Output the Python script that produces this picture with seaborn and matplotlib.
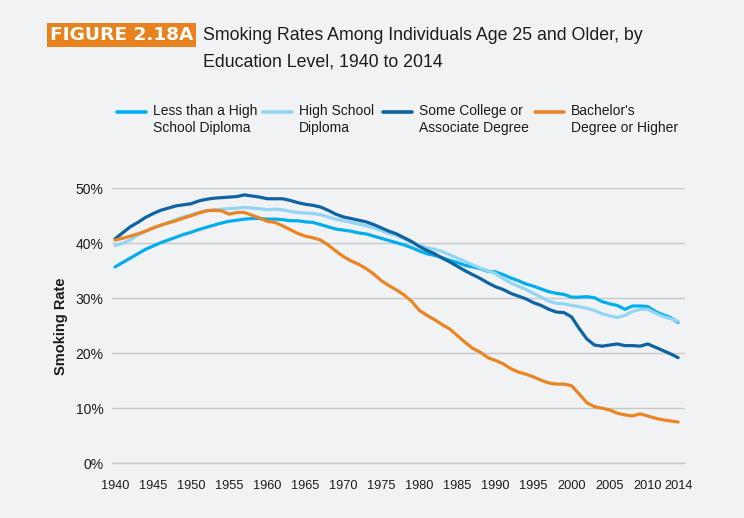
import pandas as pd
import matplotlib.pyplot as plt
import seaborn as sns
from matplotlib.lines import Line2D
from matplotlib.ticker import FuncFormatter, MultipleLocator

# smoking rate (%) by year
years = list(range(1940, 2015))

less_than_hs = [
    35.7, 36.5, 37.3, 38.1, 38.9, 39.5, 40.1, 40.6, 41.1, 41.6,
    42.0, 42.5, 42.9, 43.3, 43.7, 44.0, 44.2, 44.4, 44.5, 44.5,
    44.4, 44.4, 44.3, 44.1, 44.1, 43.9, 43.8, 43.4, 43.0, 42.6,
    42.4, 42.2, 41.9, 41.7, 41.3, 40.9, 40.5, 40.1, 39.7, 39.2,
    38.6, 38.1, 37.8, 37.4, 36.9, 36.5, 36.0, 35.7, 35.4, 34.9,
    34.8, 34.3, 33.7, 33.2, 32.6, 32.2, 31.7, 31.2, 30.9, 30.7,
    30.2, 30.2, 30.3, 30.1, 29.4, 29.0, 28.7, 28.0, 28.6, 28.6,
    28.5, 27.6, 27.0, 26.5, 25.6,
]
high_school = [
    39.6, 40.0, 40.6, 41.5, 42.2, 42.7, 43.2, 43.8, 44.3, 44.8,
    45.2, 45.6, 45.9, 46.1, 46.2, 46.3, 46.4, 46.5, 46.4, 46.3,
    46.1, 46.2, 46.1, 45.8, 45.6, 45.5, 45.4, 45.2, 44.8, 44.4,
    44.1, 43.8, 43.5, 43.2, 42.8, 42.3, 41.8, 41.4, 40.8, 40.2,
    39.7, 39.2, 38.9, 38.5, 37.9, 37.3, 36.7, 36.1, 35.5, 35.0,
    34.5, 33.6, 32.8, 32.2, 31.6, 30.9, 30.2, 29.5, 29.1, 29.0,
    28.7, 28.5, 28.2, 27.8, 27.2, 26.8, 26.5, 26.9, 27.6, 28.0,
    28.0, 27.3, 26.7, 26.3, 25.8,
]
some_college = [
    40.8, 41.9, 43.0, 43.8, 44.7, 45.4, 46.0, 46.4, 46.8, 47.0,
    47.2, 47.7, 48.0, 48.2, 48.3, 48.4, 48.5, 48.8, 48.6, 48.4,
    48.1, 48.1, 48.1, 47.8, 47.4, 47.1, 46.9, 46.6, 46.0, 45.3,
    44.8, 44.5, 44.2, 43.9, 43.4, 42.8, 42.2, 41.7, 41.0, 40.3,
    39.4, 38.7, 38.1, 37.3, 36.6, 35.8, 35.0, 34.3, 33.6, 32.8,
    32.1, 31.6, 30.9, 30.4, 29.9, 29.2, 28.7, 28.0, 27.5, 27.4,
    26.6, 24.5, 22.6, 21.5, 21.3, 21.5, 21.7, 21.4, 21.4, 21.3,
    21.7, 21.1, 20.5, 19.9, 19.2,
]
bachelors = [
    40.6, 40.9, 41.3, 41.7, 42.2, 42.8, 43.3, 43.7, 44.1, 44.6,
    45.0, 45.5, 45.9, 46.0, 45.9, 45.3, 45.6, 45.6, 45.1, 44.6,
    44.0, 43.8, 43.2, 42.5, 41.8, 41.3, 41.0, 40.6, 39.7, 38.6,
    37.6, 36.8, 36.2, 35.4, 34.4, 33.2, 32.3, 31.5, 30.6, 29.4,
    27.8, 26.9, 26.1, 25.2, 24.4, 23.2, 22.0, 20.9, 20.2, 19.2,
    18.7, 18.1, 17.2, 16.6, 16.2, 15.7, 15.1, 14.6, 14.4, 14.4,
    14.1, 12.6, 11.0, 10.3, 10.0, 9.7, 9.1, 8.8, 8.6, 9.0,
    8.6, 8.2, 7.9, 7.7, 7.5,
]

series_labels = [
    "Less than a High\nSchool Diploma",
    "High School\nDiploma",
    "Some College or\nAssociate Degree",
    "Bachelor's\nDegree or Higher",
]
series_colors = ["#00AEEF", "#93D5F4", "#0E63A3", "#EB8423"]
year_ticks = [1940, 1945, 1950, 1955, 1960, 1965, 1970, 1975,
              1980, 1985, 1990, 1995, 2000, 2005, 2010, 2014]

df = pd.DataFrame({
    "year": years * 4,
    "rate": less_than_hs + high_school + some_college + bachelors,
    "group": sum([[lab] * len(years) for lab in series_labels], []),
})

bg = "#F1F2F4"
ink = "#1E1B1C"
grid_col = "#C8C8C8"

sns.set_style("white")
plt.rcParams["font.family"] = ["Liberation Sans", "DejaVu Sans"]

fig = plt.figure(figsize=(7.44, 5.18), dpi=100, facecolor=bg)
ax = fig.add_axes([112 / 744, 54.7 / 518, 573 / 744, 275 / 518])
ax.set_facecolor(bg)

sns.lineplot(data=df, x="year", y="rate", hue="group", hue_order=series_labels,
             palette=dict(zip(series_labels, series_colors)), linewidth=2.3,
             legend=False, ax=ax, zorder=3)

ax.set_xlim(1939.6, 2014.9)
ax.set_ylim(0, 50)
ax.yaxis.set_major_locator(MultipleLocator(10))
ax.yaxis.set_major_formatter(FuncFormatter(lambda v, _: f"{v:.0f}%"))
ax.grid(axis="y", color=grid_col, linewidth=1.0)
ax.grid(axis="x", visible=False)
for side in ["top", "right", "left"]:
    ax.spines[side].set_visible(False)
ax.spines["bottom"].set_color(grid_col)
ax.spines["bottom"].set_linewidth(1.0)

ax.set_xticks(year_ticks)
ax.set_xticks(years, minor=True)
ax.tick_params(axis="x", which="both", direction="out", length=4, width=0.8,
               color="#B5B5B5", labelsize=9.2, labelcolor=ink, pad=8)
ax.tick_params(axis="y", length=0, labelsize=10, labelcolor=ink, pad=6)
ax.set_xlabel("")
ax.set_ylabel("Smoking Rate", fontsize=10.5, fontweight="bold", color=ink)
ax.yaxis.set_label_coords((68 - 112) / 573, 0.5)

# legend: handle beside the first line of each two-line label
handle_x = [117, 263, 383, 535]
for hx, lab, col in zip(handle_x, series_labels, series_colors):
    fig.add_artist(Line2D([hx / 744, (hx + 29) / 744], [1 - 112 / 518] * 2,
                          color=col, linewidth=2.6, transform=fig.transFigure))
    fig.text((hx + 36) / 744, 1 - 104 / 518, lab, fontsize=10, color=ink,
             va="top", ha="left", linespacing=1.3)

# title block
fig.text(50 / 744, 1 - 35 / 518, "FIGURE 2.18A", fontsize=13.3, fontweight="bold",
         color="white", va="center", ha="left", family=["DejaVu Sans"],
         bbox=dict(boxstyle="square,pad=0.15", facecolor="#E8821E", edgecolor="none"))
fig.text(203 / 744, 1 - 35 / 518, "Smoking Rates Among Individuals Age 25 and Older, by",
         fontsize=12.8, color=ink, va="center", ha="left")
fig.text(203 / 744, 1 - 62 / 518, "Education Level, 1940 to 2014",
         fontsize=12.8, color=ink, va="center", ha="left")

fig.savefig("out.png", dpi=100, facecolor=bg)
